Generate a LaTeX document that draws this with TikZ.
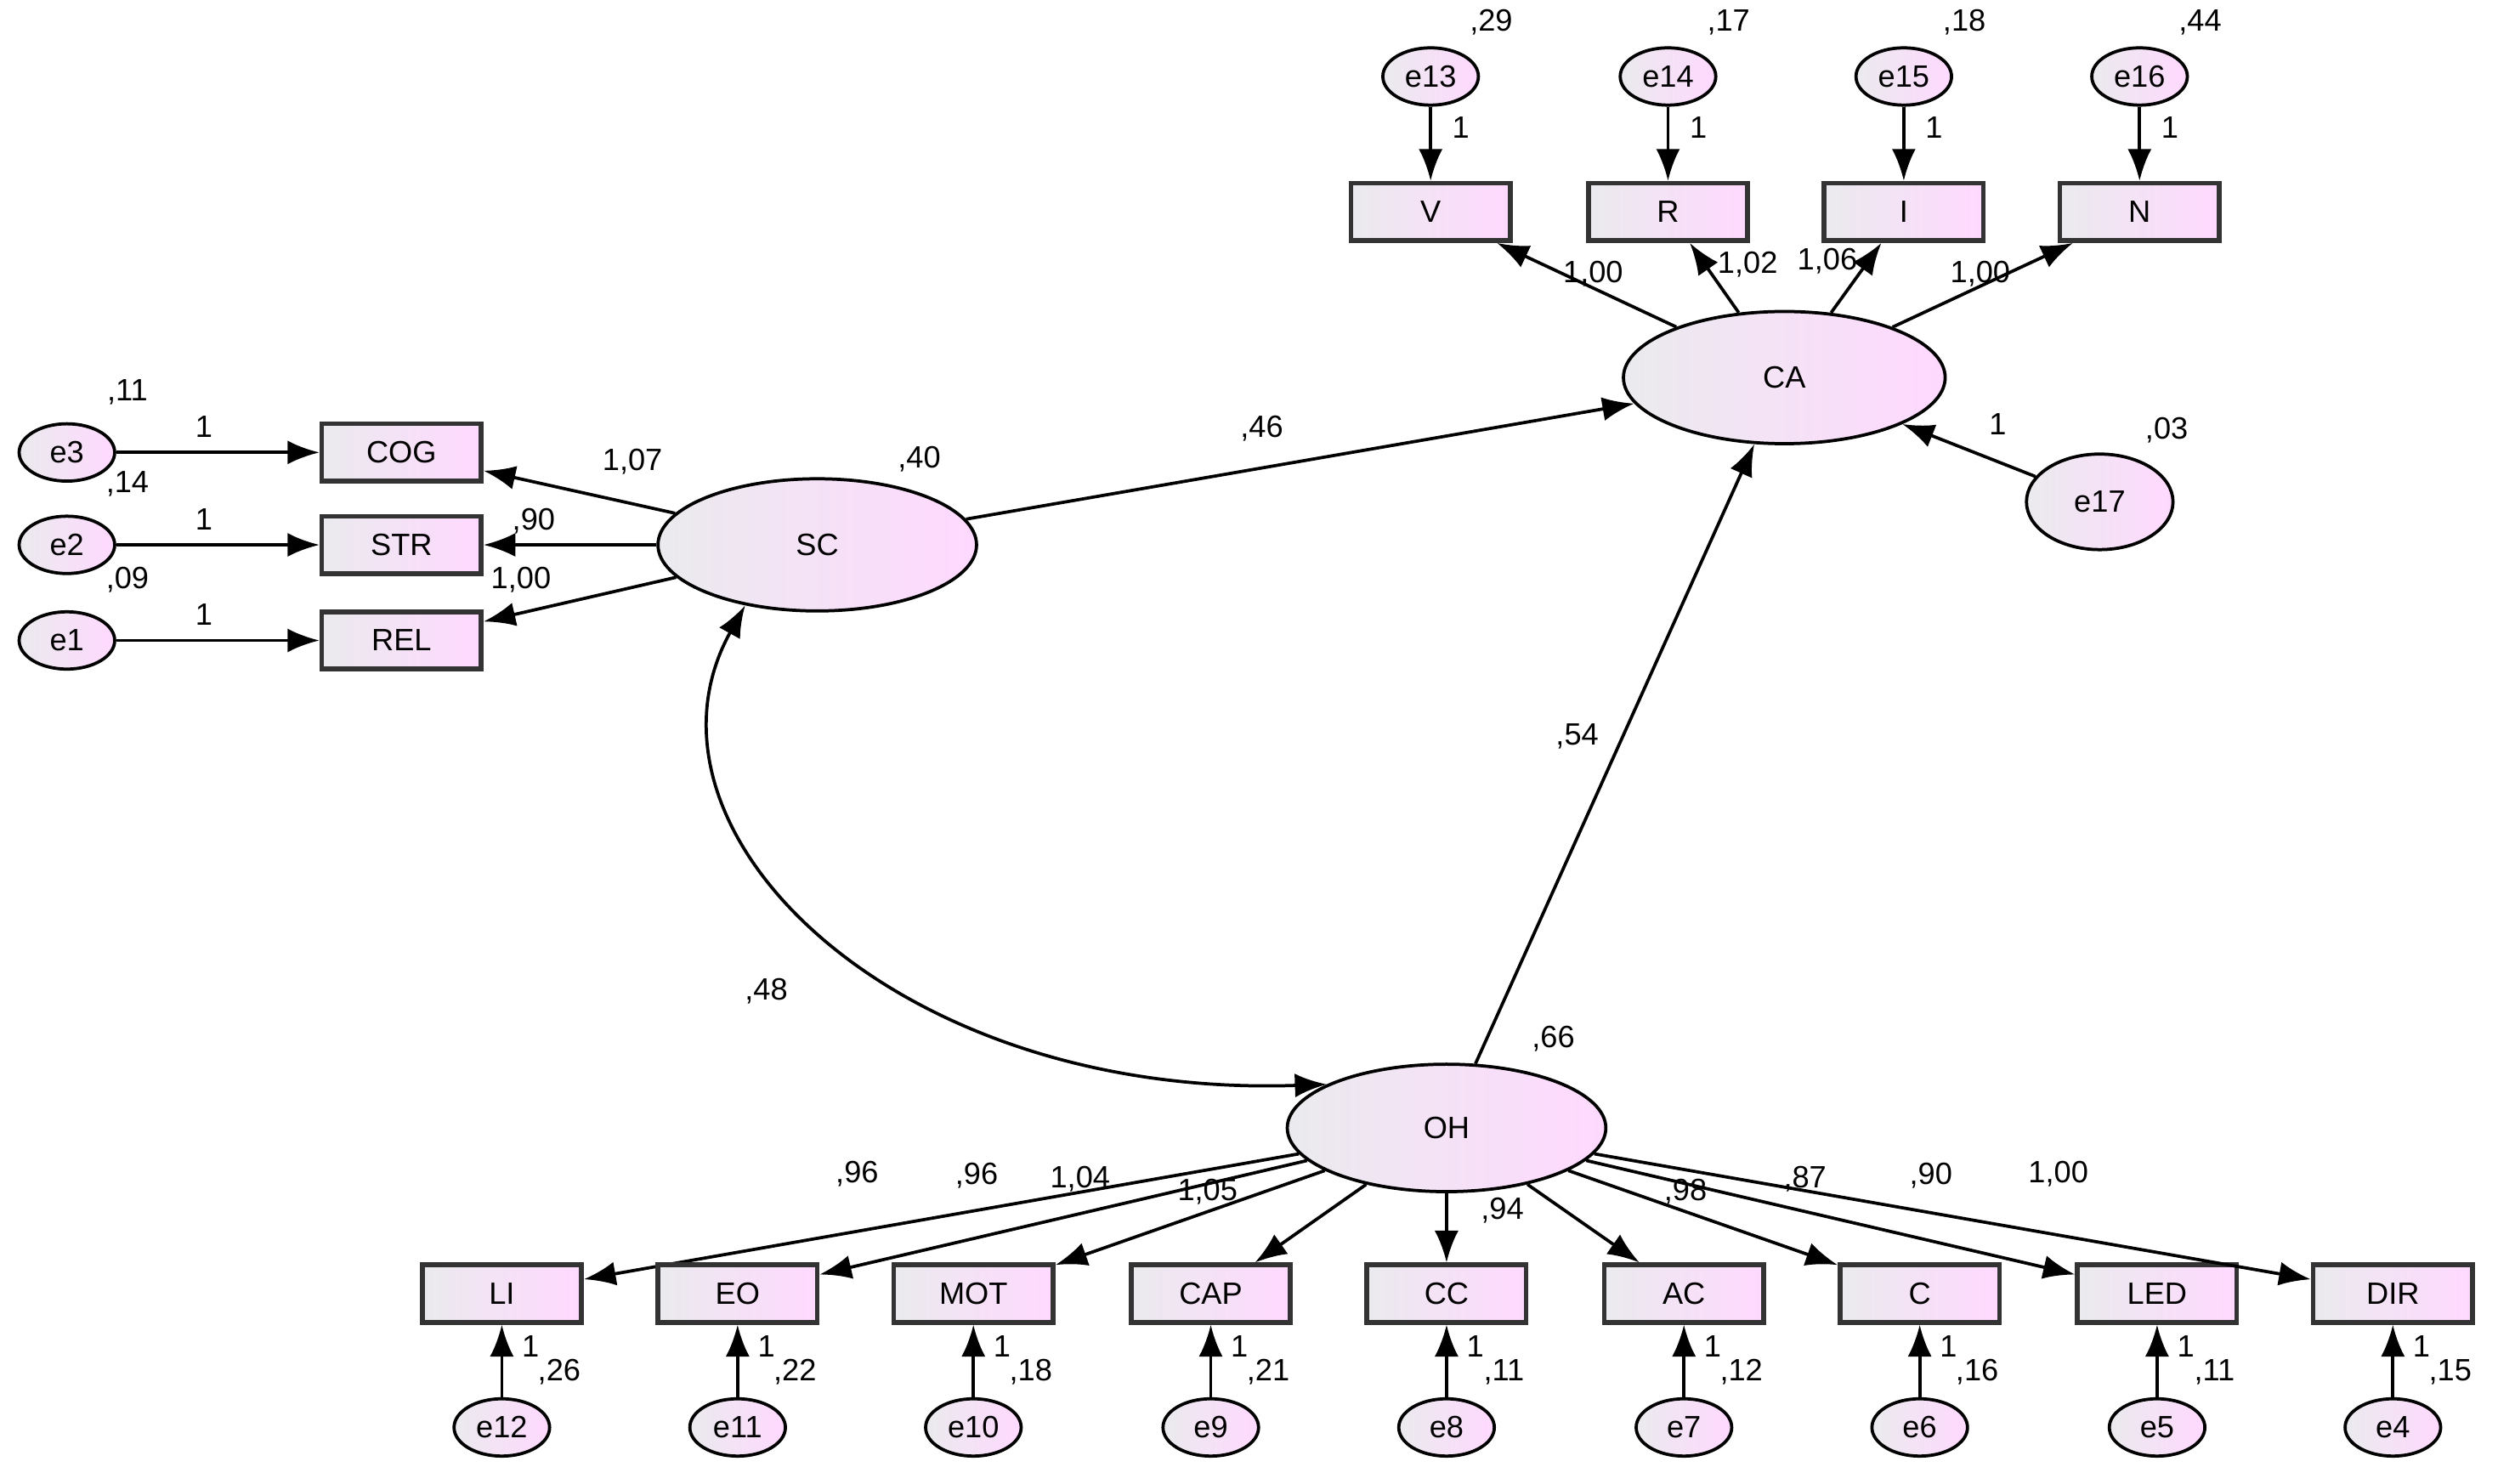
\documentclass[tikz,border=0pt]{standalone}
\usepackage{fontspec}
\setmainfont{Liberation Sans}
\usetikzlibrary{arrows.meta,shapes.geometric}
\begin{document}
\begin{tikzpicture}[x=0.02cm,y=-0.02cm,
  font=\fontsize{11}{13}\selectfont,
  fillc/.style={left color=blue!8!gray!15, right color=magenta!15!white},
  obs/.style={draw=black!80, line width=0.06cm, fillc, minimum width=2cm, minimum height=0.72cm, inner sep=0pt},
  lat/.style={draw, line width=0.04cm, ellipse, fillc, inner sep=0pt},
  err/.style={draw, line width=0.04cm, ellipse, fillc, minimum width=1.2cm, minimum height=0.72cm, inner sep=0pt},
  ar/.style={line width=0.04cm, -{Latex[length=0.4cm,width=0.3cm]}},
  lb/.style={inner sep=0pt}]
\useasboundingbox (0,0) rectangle (1568,931);
% latent
\node[lat, minimum width=4.04cm, minimum height=1.66cm] (CA) at (1120,237) {CA};
\node[lat, minimum width=4cm, minimum height=1.66cm] (SC) at (513,342) {SC};
\node[lat, minimum width=4cm, minimum height=1.6cm] (OH) at (908,708) {OH};
\node[err, minimum width=1.84cm, minimum height=1.2cm] (e17) at (1318,315) {e17};
% top
\foreach \n/\e/\x/\v in {V/e13/898/{,29}, R/e14/1047/{,17}, I/e15/1195/{,18}, N/e16/1343/{,44}}{
  \node[obs] (\n) at (\x,133) {\n};
  \node[err] (\e) at (\x,48) {\e};
  \draw[ar] (\e) -- (\n);
  \node[lb] at (\x+19,80) {1};
  \node[lb] at (\x+38,14) {\v};
  \draw[ar] (CA) -- (\n);
}
\node[lb] at (1000,172) {1,00};
\node[lb] at (1097,166) {1,02};
\node[lb] at (1147,164) {1,06};
\node[lb] at (1243,172) {1,00};
\draw[ar] (e17) -- (CA);
\node[lb] at (1254,266) {1};
\node[lb] at (1360,270) {,03};
% left
\foreach \n/\e/\y/\v in {COG/e3/284/{,11}, STR/e2/342/{,14}, REL/e1/402/{,09}}{
  \node[obs] (\n) at (252,\y) {\n};
  \node[err] (\e) at (42,\y) {\e};
  \draw[ar] (\e) -- (\n);
  \node[lb] at (128,\y-16) {1};
  \node[lb] at (80,\y-38) {\v};
  \draw[ar] (SC) -- (\n);
}
\node[lb] at (397,290) {1,07};
\node[lb] at (335,327) {,90};
\node[lb] at (327,364) {1,00};
\node[lb] at (577,288) {,40};
\draw[ar] (SC) -- (CA);
\node[lb] at (792,269) {,46};
\draw[ar] (OH) -- (CA);
\node[lb] at (990,462) {,54};
\node[lb] at (975,652) {,66};
\draw[line width=0.04cm, {Latex[length=0.4cm,width=0.3cm]}-{Latex[length=0.4cm,width=0.3cm]}] (SC.220) .. controls (390,520) and (560,690) .. (OH.160);
\node[lb] at (481,622) {,48};
% bottom
\foreach \n/\e/\x/\v in {LI/e12/315/{,26}, EO/e11/463/{,22}, MOT/e10/611/{,18}, CAP/e9/760/{,21}, CC/e8/908/{,11}, AC/e7/1057/{,12}, C/e6/1205/{,16}, LED/e5/1354/{,11}, DIR/e4/1502/{,15}}{
  \node[obs] (\n) at (\x,812) {\n};
  \node[err] (\e) at (\x,896) {\e};
  \draw[ar] (\e) -- (\n);
  \node[lb] at (\x+18,845) {1};
  \node[lb] at (\x+36,861) {\v};
  \draw[ar] (OH) -- (\n);
}
\node[lb] at (538,737) {,96};
\node[lb] at (613,738) {,96};
\node[lb] at (678,740) {1,04};
\node[lb] at (758,748) {1,05};
\node[lb] at (943,760) {,94};
\node[lb] at (1058,748) {,98};
\node[lb] at (1133,740) {,87};
\node[lb] at (1212,738) {,90};
\node[lb] at (1292,737) {1,00};
\end{tikzpicture}
\end{document}
